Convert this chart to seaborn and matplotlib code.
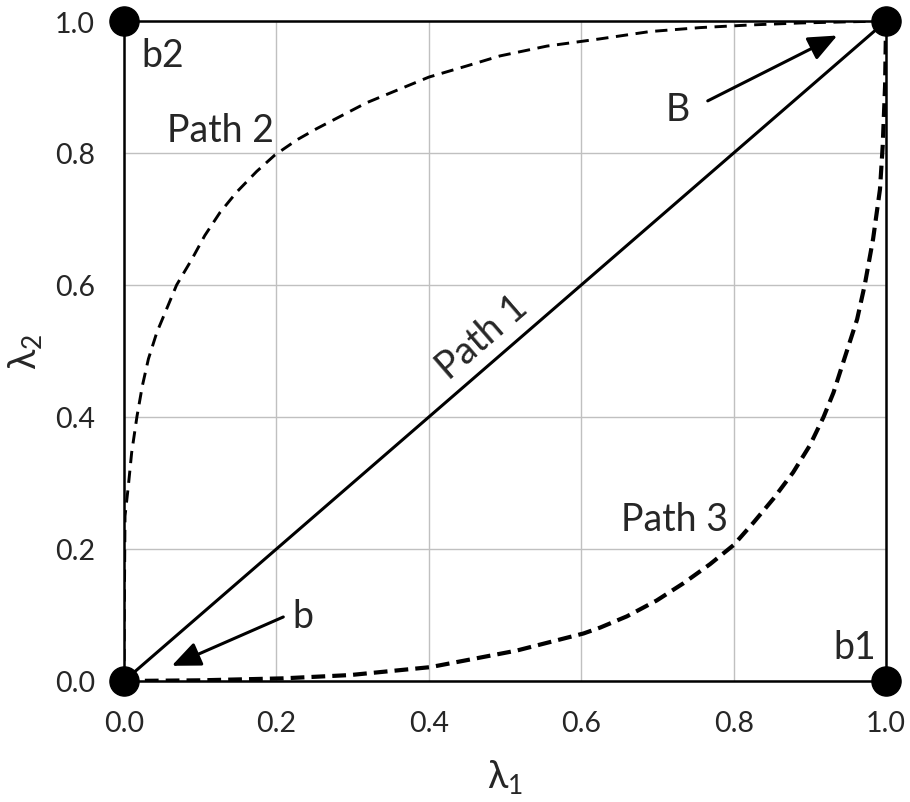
import matplotlib
matplotlib.use("Agg")
from matplotlib import pyplot as plt
import seaborn as sns
import pandas as pd

# path coordinates
path1_x = [0.0, 1.0]
path1_y = [0.0, 1.0]

path2_x = [0.0, 0.0003, 0.0013, 0.0057, 0.010, 0.017, 0.024, 0.032, 0.043, 0.056, 0.069, 0.089, 0.106,
           0.126, 0.148, 0.174, 0.198, 0.227, 0.253, 0.318, 0.4, 0.45, 0.493, 0.555, 0.625, 0.69, 0.756,
           0.822, 0.887, 0.96, 1.0]
path2_y = [0.0, 0.1, 0.25, 0.296, 0.346, 0.401, 0.447, 0.488, 0.528, 0.564, 0.6, 0.639, 0.675,
           0.710, 0.741, 0.772, 0.797, 0.820, 0.837, 0.876, 0.915, 0.932, 0.947, 0.962, 0.973, 0.984, 0.99,
           0.994, 0.997, 0.999, 1.0]

path3_x = [0.0, 0.1, 0.209, 0.297, 0.402, 0.515, 0.603, 0.625, 0.66, 0.699, 0.734, 0.769, 0.8, 0.826, 0.852,
           0.878, 0.9, 0.918, 0.931, 0.948, 0.962, 0.972, 0.983, 0.992, 0.9956, 0.9987, 1.0]
path3_y = [0.0, 0.001, 0.004, 0.009, 0.021, 0.046, 0.072, 0.081, 0.098, 0.122, 0.148, 0.177, 0.206, 0.24, 0.276,
           0.316, 0.357, 0.4, 0.437, 0.498, 0.548, 0.6, 0.67, 0.745, 0.811, 0.902, 1.0]

corner_x = [0.0, 1.0, 0.0, 1.0]
corner_y = [0.0, 0.0, 1.0, 1.0]

ticks = [0.0, 0.2, 0.4, 0.6, 0.8, 1.0]
tick_labels = ['0.0', '0.2', '0.4', '0.6', '0.8', '1.0']

sns.set_style('white')
plt.rcParams['font.family'] = ['Lato', 'DejaVu Sans']
plt.rcParams['mathtext.fontset'] = 'custom'
plt.rcParams['mathtext.rm'] = 'Lato'
plt.rcParams['mathtext.fallback'] = 'stixsans'

fig = plt.figure(figsize=(9.1, 8.03), dpi=100)
ax = fig.add_axes([0.1363, 0.1507, 0.8374, 0.8219])

df1 = pd.DataFrame({'x': path1_x, 'y': path1_y})
df2 = pd.DataFrame({'x': path2_x, 'y': path2_y})
df3 = pd.DataFrame({'x': path3_x, 'y': path3_y})

sns.lineplot(data=df1, x='x', y='y', ax=ax, color='black', lw=2.2, sort=False, estimator=None)
l2 = sns.lineplot(data=df2, x='x', y='y', ax=ax, color='black', lw=2.1, sort=False, estimator=None).lines[-1]
l2.set_dashes((4.2, 2.6))
l3 = sns.lineplot(data=df3, x='x', y='y', ax=ax, color='black', lw=3.0, sort=False, estimator=None).lines[-1]
l3.set_dashes((3.3, 1.7))

ax.scatter(corner_x, corner_y, s=440, color='black', zorder=5, clip_on=False)

ax.set_xlim(0, 1)
ax.set_ylim(0, 1)
ax.set_xticks(ticks)
ax.set_yticks(ticks)
ax.set_xticklabels(tick_labels)
ax.set_yticklabels(tick_labels)
ax.tick_params(axis='both', length=0, labelsize=20.5, pad=21)
ax.grid(True, color='#c0c0c0', lw=1)
for s in ax.spines.values():
    s.set_color('black')
    s.set_linewidth(1.8)

ax.set_xlabel(r'$\mathregular{λ_1}$', fontsize=27, labelpad=15)
ax.set_ylabel(r'$\mathregular{λ_2}$', fontsize=27, labelpad=8)

ax.text(0.051, 0.948, 'b2', fontsize=27, ha='center', va='center')
ax.text(0.127, 0.835, 'Path 2', fontsize=27, ha='center', va='center')
ax.text(0.723, 0.245, 'Path 3', fontsize=27, ha='center', va='center')
ax.text(0.959, 0.052, 'b1', fontsize=27, ha='center', va='center')
ax.text(0.470, 0.521, 'Path 1', fontsize=27, ha='center', va='center', rotation=40.9)

arrow = dict(arrowstyle='-|>,head_length=0.7,head_width=0.3', color='black', lw=2.2,
             mutation_scale=25, shrinkA=0, shrinkB=0)
ax.annotate('', xy=(0.936, 0.978), xytext=(0.766, 0.879), arrowprops=arrow)
ax.text(0.727, 0.867, 'B', fontsize=27, ha='center', va='center')
ax.annotate('', xy=(0.0626, 0.023), xytext=(0.209, 0.097), arrowprops=arrow)
ax.text(0.235, 0.098, 'b', fontsize=27, ha='center', va='center')

fig.savefig('out.png', dpi=100)
